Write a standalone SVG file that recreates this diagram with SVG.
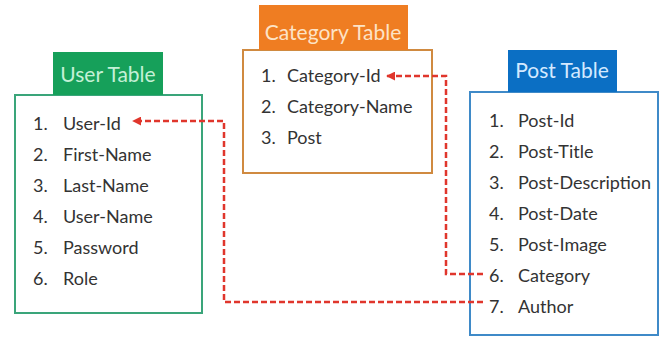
<svg xmlns="http://www.w3.org/2000/svg" width="665" height="338" viewBox="0 0 665 338">
<defs>
<style>
.item{font-family:Lato,"Liberation Sans",sans-serif;font-size:18px;fill:#333}
.head{font-family:Lato,"Liberation Sans",sans-serif;font-size:21px}
.conn{fill:none;stroke:#e0362c;stroke-width:2.5;stroke-dasharray:6 3}
</style>
<marker id="arr" viewBox="0 0 10 10" refX="9" refY="5" markerWidth="3.6" markerHeight="3.6" orient="auto" markerUnits="strokeWidth">
<path d="M0,0 L10,5 L0,10 z" fill="#e0362c"/>
</marker>
</defs>
<rect width="665" height="338" fill="#fff"/>
<g id="user-table">
<rect x="15" y="95" width="187" height="218" fill="#fff" stroke="#3aa57a" stroke-width="2"/>
<rect x="53" y="52" width="110" height="43" fill="#16a05a"/>
<text class="head" x="108" y="82" text-anchor="middle" fill="#c4f0d6">User Table</text>
<text class="item" x="33" y="130">1.</text><text class="item" x="63" y="130">User-Id</text>
<text class="item" x="33" y="161">2.</text><text class="item" x="63" y="161">First-Name</text>
<text class="item" x="33" y="192">3.</text><text class="item" x="63" y="192">Last-Name</text>
<text class="item" x="33" y="223">4.</text><text class="item" x="63" y="223">User-Name</text>
<text class="item" x="33" y="254">5.</text><text class="item" x="63" y="254">Password</text>
<text class="item" x="33" y="285">6.</text><text class="item" x="63" y="285">Role</text>
</g>
<g id="category-table">
<rect x="243" y="50" width="189" height="123" fill="#fff" stroke="#d08a40" stroke-width="2"/>
<rect x="259" y="5" width="149" height="45" fill="#ef7d22"/>
<text class="head" x="333" y="40" text-anchor="middle" fill="#fde3c6">Category Table</text>
<text class="item" x="261" y="82">1.</text><text class="item" x="287" y="82">Category-Id</text>
<text class="item" x="261" y="113">2.</text><text class="item" x="287" y="113">Category-Name</text>
<text class="item" x="261" y="144">3.</text><text class="item" x="287" y="144">Post</text>
</g>
<g id="post-table">
<rect x="470" y="92" width="188" height="243" fill="#fff" stroke="#3f8ac8" stroke-width="2"/>
<rect x="508" y="50" width="109" height="42" fill="#0b6fc4"/>
<text class="head" x="562" y="78" text-anchor="middle" fill="#d4e9ff">Post Table</text>
<text class="item" x="489" y="127">1.</text><text class="item" x="518" y="127">Post-Id</text>
<text class="item" x="489" y="158">2.</text><text class="item" x="518" y="158">Post-Title</text>
<text class="item" x="489" y="189">3.</text><text class="item" x="518" y="189">Post-Description</text>
<text class="item" x="489" y="220">4.</text><text class="item" x="518" y="220">Post-Date</text>
<text class="item" x="489" y="251">5.</text><text class="item" x="518" y="251">Post-Image</text>
<text class="item" x="489" y="282">6.</text><text class="item" x="518" y="282">Category</text>
<text class="item" x="489" y="313">7.</text><text class="item" x="518" y="313">Author</text>
</g>
<g id="connectors">
<path class="conn" d="M483,302 H224 V121 H133" marker-end="url(#arr)"/>
<path class="conn" d="M483,274 H446 V76 H387" marker-end="url(#arr)"/>
</g>
</svg>
